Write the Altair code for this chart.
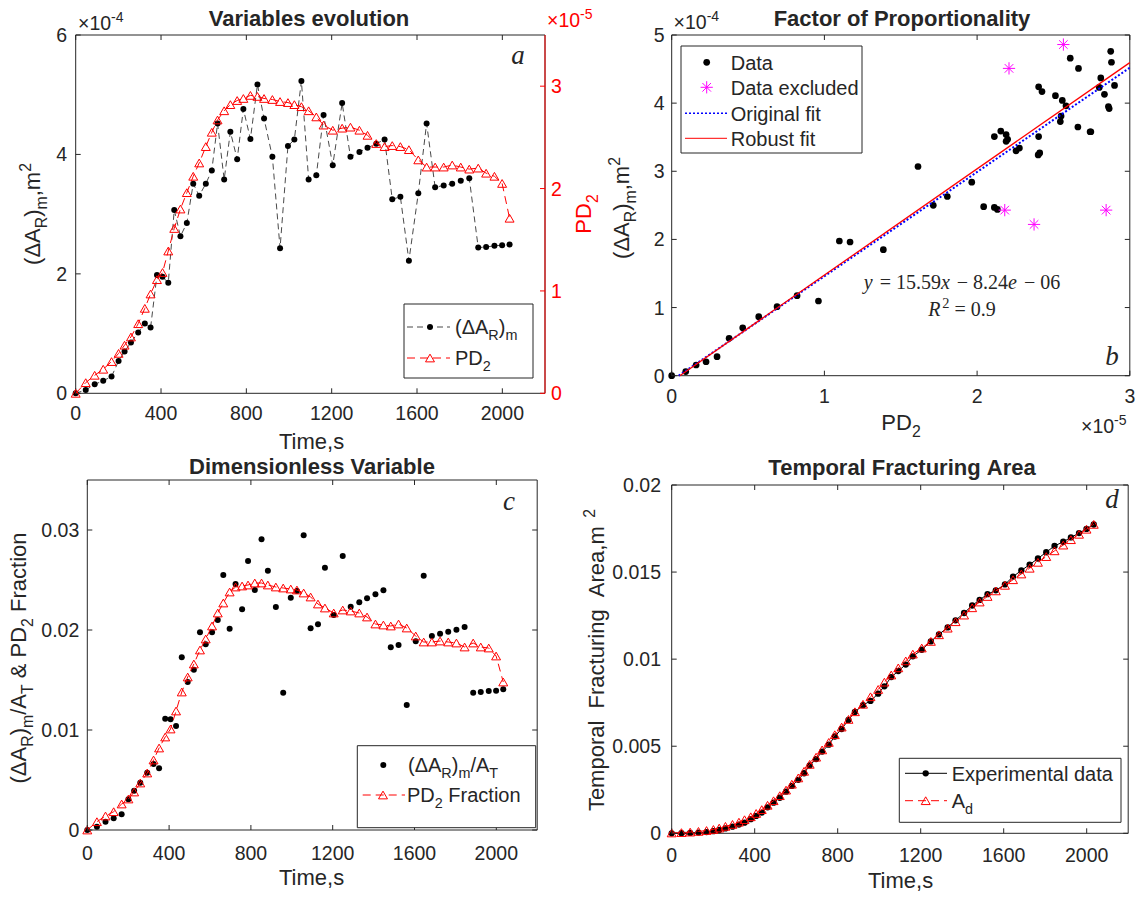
import altair as alt
import pandas as pd

# ---------------- data ----------------
time_s = [0, 47, 89, 129, 168, 201, 229, 259, 293, 324, 351, 381, 407, 434, 462, 491, 521, 551, 579, 610,
          638, 665, 696, 725, 757, 786, 819, 852, 883, 922, 958, 995, 1025, 1058, 1092, 1128, 1162, 1205, 1249, 1288,
          1330, 1368, 1409, 1448, 1484, 1522, 1562, 1606, 1645, 1685, 1725, 1765, 1805, 1845, 1887, 1924, 1963, 1999, 2034]
# (dA_R)_m in units of 1e-4 m^2
dAR_e4 = [0, 0.056, 0.15, 0.21, 0.28, 0.54, 0.70, 0.85, 1.02, 1.17, 1.10, 1.98, 1.95, 1.85, 3.07, 2.63, 2.85, 3.51, 3.31, 3.51,
          3.73, 4.52, 3.58, 4.38, 3.92, 4.76, 4.26, 5.17, 4.60, 3.96, 2.43, 4.14, 4.25, 5.23, 3.58, 3.65, 4.66, 3.82, 4.86, 3.96,
          4.04, 4.11, 4.18, 4.25, 3.25, 3.29, 2.22, 3.35, 4.52, 3.45, 3.48, 3.51, 3.56, 3.60, 2.44, 2.45, 2.47, 2.48, 2.49]
# PD2 in units of 1e-5
pd2_e5 = [0, 0.104, 0.176, 0.235, 0.31, 0.39, 0.47, 0.55, 0.68, 0.83, 0.97, 1.11, 1.18, 1.39, 1.61, 1.80, 1.96, 2.12, 2.25, 2.41,
          2.55, 2.67, 2.76, 2.82, 2.86, 2.88, 2.91, 2.90, 2.88, 2.87, 2.85, 2.84, 2.82, 2.80, 2.76, 2.70, 2.62, 2.57, 2.59, 2.60,
          2.57, 2.52, 2.44, 2.41, 2.42, 2.41, 2.38, 2.28, 2.21, 2.21, 2.21, 2.23, 2.21, 2.19, 2.20, 2.15, 2.12, 2.05, 1.71]
frac_dAR = [0, 0.00033, 0.00083, 0.00117, 0.00157, 0.00307, 0.00393, 0.00473, 0.00573, 0.0066, 0.00617, 0.01113, 0.01107, 0.0104,
            0.01727, 0.0148, 0.01603, 0.01977, 0.01857, 0.01977, 0.021, 0.0255, 0.02013, 0.0246, 0.02207, 0.0269, 0.024, 0.02907,
            0.02593, 0.0223, 0.01373, 0.02323, 0.0239, 0.02947, 0.02017, 0.02057, 0.02623, 0.0215, 0.0274, 0.02233, 0.02277,
            0.02317, 0.02357, 0.02397, 0.01827, 0.0185, 0.0125, 0.01887, 0.02543, 0.0194, 0.01963, 0.01983, 0.02003, 0.0203,
            0.01373, 0.0138, 0.0139, 0.01393, 0.01407]
frac_pd2 = [0, 0.00083, 0.0014, 0.00183, 0.0026, 0.0031, 0.0038, 0.0047, 0.0057, 0.007, 0.0082, 0.0093, 0.0101, 0.0119, 0.0138,
            0.0153, 0.0166, 0.018, 0.0191, 0.0204, 0.0217, 0.0227, 0.0238, 0.0243, 0.0244, 0.0245, 0.0247, 0.0247, 0.0245, 0.0243,
            0.0242, 0.0241, 0.0240, 0.0237, 0.0233, 0.0226, 0.0222, 0.0217, 0.022, 0.0219, 0.0217, 0.0213, 0.0206, 0.0205, 0.0204,
            0.0206, 0.0202, 0.0194, 0.0188, 0.0188, 0.0189, 0.0188, 0.0187, 0.0183, 0.0187, 0.0183, 0.0182, 0.0174, 0.0148]
area_exp = [0, 0.00001, 0.00002, 0.00004, 0.00007, 0.00012, 0.00019, 0.00028, 0.00038, 0.0005,
            0.00061, 0.00081, 0.001, 0.00119, 0.00149, 0.00176, 0.00204, 0.00239, 0.00272, 0.00307,
            0.00345, 0.0039, 0.00426, 0.00469, 0.00509, 0.00556, 0.00599, 0.00651, 0.00697, 0.00736,
            0.0076, 0.00802, 0.00844, 0.00897, 0.00932, 0.00969, 0.01016, 0.01054, 0.01102, 0.01142,
            0.01182, 0.01223, 0.01265, 0.01308, 0.0134, 0.01373, 0.01395, 0.01429, 0.01474, 0.01509,
            0.01543, 0.01578, 0.01614, 0.0165, 0.01674, 0.01699, 0.01724, 0.01748, 0.01773]
area_ad = [0.00002, 0.00004, 0.00007, 0.00011, 0.00016, 0.00022, 0.0003, 0.0004, 0.00051, 0.00064,
           0.00078, 0.00095, 0.00114, 0.00136, 0.00161, 0.00187, 0.00216, 0.00248, 0.00282, 0.00318,
           0.00356, 0.00396, 0.00437, 0.00479, 0.00522, 0.00566, 0.0061, 0.00654, 0.00698, 0.00741,
           0.00784, 0.00826, 0.00868, 0.00909, 0.0095, 0.0099, 0.01029, 0.01064, 0.01102, 0.0114,
           0.01178, 0.01215, 0.01253, 0.01295, 0.01328, 0.0136, 0.01392, 0.01424, 0.01456, 0.01489,
           0.01522, 0.01556, 0.01589, 0.01622, 0.01655, 0.01686, 0.01717, 0.01746, 0.01774]
# panel b (x in 1e-5, y in 1e-4)
b_data_x = [0, 0.092, 0.16, 0.225, 0.297, 0.376, 0.465, 0.57, 0.69, 0.821, 0.961, 1.098, 1.168, 1.386,
            1.613, 1.713, 1.805, 1.965, 2.043, 2.113, 2.113, 2.133, 2.155, 2.19, 2.20, 2.19, 2.255, 2.277, 2.403,
            2.425, 2.403, 2.40, 2.41, 2.513, 2.558, 2.582, 2.55, 2.545, 2.61, 2.664, 2.66, 2.74, 2.745, 2.81, 2.80,
            2.834, 2.86, 2.865, 2.875, 2.88, 2.90]
b_data_y = [0, 0.06, 0.157, 0.205, 0.279, 0.548, 0.704, 0.866, 1.013, 1.174, 1.096, 1.977, 1.962, 1.849,
            3.07, 2.50, 2.63, 2.84, 2.48, 3.51, 2.47, 2.44, 3.59, 3.54, 3.47, 3.44, 3.30, 3.34, 4.24,
            4.17, 3.51, 3.24, 3.27, 4.11, 4.04, 3.96, 3.81, 3.73, 4.66, 4.51, 3.65, 3.58, 3.58, 4.37, 4.23,
            4.13, 3.95, 3.92, 4.76, 4.60, 4.26]
b_excl_x = [2.209, 2.565, 2.181, 2.373, 2.845]
b_excl_y = [4.51, 4.86, 2.43, 2.22, 2.43]
robust_x = [0.053, 3.0]
robust_y = [0.0, 4.595]
original_x = [0.046, 3.0]
original_y = [0.0, 4.52]

time_ticks = [0, 400, 800, 1200, 1600, 2000]
time_labels = ["0", "400", "800", "1200", "1600", "2000"]
a_left_ticks, a_left_labels = [0, 2, 4, 6], ["0", "2", "4", "6"]
a_right_ticks, a_right_labels = [0, 1, 2, 3], ["0", "1", "2", "3"]
b_x_ticks, b_x_labels = [0, 1, 2, 3], ["0", "1", "2", "3"]
b_y_ticks, b_y_labels = [0, 1, 2, 3, 4, 5], ["0", "1", "2", "3", "4", "5"]
c_y_ticks, c_y_labels = [0, 0.01, 0.02, 0.03], ["0", "0.01", "0.02", "0.03"]
d_y_ticks, d_y_labels = [0, 0.005, 0.01, 0.015, 0.02], ["0", "0.005", "0.01", "0.015", "0.02"]

# ---------------- style ----------------
FONT = "Liberation Sans"
SERIF = "Liberation Serif"
DARK = "#262626"
RED = "#ff0000"
MAGENTA = "#ff00ff"
BLUE = "#0000ff"
LBL = 19.5
TTL = 22
HEAD = 22
LEG = 20
ASTERISK = "M-1,0L1,0M0,-1L0,1M-0.7,-0.7L0.7,0.7M-0.7,0.7L0.7,-0.7"

ARIAL = {' ': 278, '(': 333, ')': 333, ',': 278, '.': 278, '/': 278, '&': 667, '-': 333,
         '\u2212': 584, '\u00d7': 584, '\u0394': 668, 'A': 667, 'D': 722, 'E': 667, 'F': 611, 'P': 667,
         'R': 722, 'T': 611, 'V': 667, 'a': 556, 'b': 556, 'c': 500, 'd': 556, 'e': 556, 'f': 278,
         'g': 556, 'i': 222, 'l': 222, 'm': 833, 'n': 556, 'o': 556, 'p': 556, 'r': 333, 's': 500,
         't': 278, 'u': 556, 'v': 500, 'x': 500, 'y': 500}
TIMES = {' ': 250, '=': 564, '\u2212': 564, '.': 250, 'y': 444, 'x': 444, 'e': 444, 'R': 611}

ONE = pd.DataFrame({'k': [0]})


def width(s, size, metrics):
    dflt = 556 if metrics is ARIAL else 500
    return sum(metrics.get(ch, dflt) for ch in s) * size / 1000.0


def text_mark(s, x, y, size, color=DARK, align='left', angle=0, font=FONT, style='normal', weight='normal'):
    kw = dict(text=s.replace(' ', '\u00a0'), align=align, baseline='alphabetic', fontSize=size, font=font,
              color=color, fontStyle=style, fontWeight=weight)
    if angle:
        kw['angle'] = angle
    return alt.Chart(ONE).mark_text(**kw).encode(x=alt.value(x), y=alt.value(y))


def rich(segs, X, Y, size, color=DARK, anchor='left', angle=0, font=FONT, metrics=ARIAL):
    items = []
    for seg in segs:
        s, kind = seg[0], seg[1]
        style = seg[2] if len(seg) > 2 else 'normal'
        fs = size * 0.72 if kind in ('sub', 'sup') else size
        w = width(s, fs, metrics) + (0.1 * fs if style == 'italic' else 0.0)
        items.append((s, kind, style, fs, w))
    total = sum(it[4] for it in items)
    cum = -total / 2 if anchor == 'center' else 0.0
    out = []
    for s, kind, style, fs, w in items:
        core = s.strip(' ')
        lead = width(s[:len(s) - len(s.lstrip(' '))], fs, metrics)
        shift = 0.32 * size if kind == 'sub' else (-0.42 * size if kind == 'sup' else 0.0)
        pos = cum + lead
        if angle == 270:
            px, py = X + shift, Y - pos
        else:
            px, py = X + pos, Y + shift
        out.append(text_mark(core, px, py, fs, color, 'left', angle, font, style))
        cum += w
    return out


def seg_rule(x1, x2, y, color, dash=None, w=1.0):
    kw = dict(color=color, strokeWidth=w)
    if dash:
        kw['strokeDash'] = dash
    return alt.Chart(ONE).mark_rule(**kw).encode(x=alt.value(x1), x2=alt.value(x2), y=alt.value(y))


def vrule(x, y1, y2, color, w=1.0):
    return alt.Chart(ONE).mark_rule(color=color, strokeWidth=w).encode(
        x=alt.value(x), y=alt.value(y1), y2=alt.value(y2))


def sym(x, y, shape, size, color, filled):
    return alt.Chart(ONE).mark_point(shape=shape, size=size, filled=filled, color=color, opacity=1,
                                     strokeWidth=1).encode(x=alt.value(x), y=alt.value(y))


def box(x1, x2, y1, y2, fill=True):
    kw = dict(stroke=DARK, strokeWidth=1)
    if fill:
        kw['fill'] = 'white'
    else:
        kw['fillOpacity'] = 0
    return alt.Chart(ONE).mark_rect(**kw).encode(
        x=alt.value(x1), x2=alt.value(x2), y=alt.value(y1), y2=alt.value(y2))


def xticks(vals, scale, top, bottom, color=DARK):
    df = pd.DataFrame({'tv': vals})
    base = alt.Chart(df).mark_rule(color=color, strokeWidth=1)
    ex = alt.X('tv:Q', scale=scale, axis=None)
    return [base.encode(x=ex, y=alt.value(bottom), y2=alt.value(bottom - 5)),
            base.encode(x=ex, y=alt.value(top), y2=alt.value(top + 5))]


def yticks(vals, scale, left=None, right=None, color=DARK):
    df = pd.DataFrame({'tv': vals})
    base = alt.Chart(df).mark_rule(color=color, strokeWidth=1)
    ey = alt.Y('tv:Q', scale=scale, axis=None)
    out = []
    if left is not None:
        out.append(base.encode(y=ey, x=alt.value(left), x2=alt.value(left + 5)))
    if right is not None:
        out.append(base.encode(y=ey, x=alt.value(right - 5), x2=alt.value(right)))
    return out


def xlabels(vals, labels, scale, ybase, color=DARK):
    df = pd.DataFrame({'tv': vals, 'lab': labels})
    return alt.Chart(df).mark_text(align='center', baseline='alphabetic', fontSize=LBL, font=FONT,
                                   color=color).encode(
        x=alt.X('tv:Q', scale=scale, axis=None), y=alt.value(ybase), text='lab:N')


def ylabels(vals, labels, scale, x, align='right', color=DARK):
    df = pd.DataFrame({'tv': vals, 'lab': labels})
    return alt.Chart(df).mark_text(align=align, baseline='alphabetic', dy=7, fontSize=LBL, font=FONT,
                                   color=color).encode(
        y=alt.Y('tv:Q', scale=scale, axis=None), x=alt.value(x), text='lab:N')


# ================= panel a =================
XA = alt.Scale(domain=[0, 2200], range=[75.7, 545], nice=False, zero=False)
YAL = alt.Scale(domain=[0, 6], range=[393.3, 35], nice=False)
YAR = alt.Scale(domain=[0, 3.5], range=[393.3, 35], nice=False)
df_a = pd.DataFrame({'t': time_s, 'dA': dAR_e4, 'pd2': pd2_e5})

a_line = alt.Chart(df_a).mark_line(color='#1a1a1a', strokeWidth=0.8, strokeDash=[6, 4]).encode(
    x=alt.X('t:Q', scale=XA, axis=None), y=alt.Y('dA:Q', scale=YAL, axis=None))
a_pts = alt.Chart(df_a).mark_circle(color='black', size=36, opacity=1).encode(
    x=alt.X('t:Q', scale=XA, axis=None), y=alt.Y('dA:Q', scale=YAL, axis=None))
pa_left = alt.layer(a_line, a_pts, *xticks(time_ticks, XA, 35, 393.3),
                    *yticks(a_left_ticks, YAL, left=75.7),
                    xlabels(time_ticks, time_labels, XA, 420),
                    ylabels(a_left_ticks, a_left_labels, YAL, 67))

a_rline = alt.Chart(df_a).mark_line(color=RED, strokeWidth=1, strokeDash=[8, 5]).encode(
    x=alt.X('t:Q', scale=XA, axis=None), y=alt.Y('pd2:Q', scale=YAR, axis=None))
a_tri = alt.Chart(df_a).mark_point(shape='triangle-up', size=80, color=RED, filled=False, strokeWidth=1,
                                   opacity=1).encode(
    x=alt.X('t:Q', scale=XA, axis=None), y=alt.Y('pd2:Q', scale=YAR, axis=None))
pa_right = alt.layer(a_rline, a_tri, *yticks(a_right_ticks, YAR, right=545, color=RED),
                     ylabels(a_right_ticks, a_right_labels, YAR, 551, align='left', color=RED))

a_ann = [
    vrule(545, 35, 393.3, RED),
    text_mark("Variables evolution", 309, 25.7, HEAD, align='center', weight='bold'),
    text_mark("a", 518, 64, 27, align='center', font=SERIF, style='italic'),
    *rich([("\u00d710", 'n'), ("-4", 'sup')], 78, 30, LBL),
    *rich([("\u00d710", 'n'), ("-5", 'sup')], 547, 27, LBL, color=RED),
    *rich([("(\u0394A", 'n'), ("R", 'sub'), (")", 'n'), ("m", 'sub'), (",m", 'n'), ("2", 'sup')],
          40, 214, TTL, anchor='center', angle=270),
    *rich([("PD", 'n'), ("2", 'sub')], 591, 214, TTL, color=RED, anchor='center', angle=270),
    *rich([("Time,s", 'n')], 312, 448.5, TTL, anchor='center'),
    box(404, 533, 304, 378),
    seg_rule(407, 450, 327, '#1a1a1a', [6, 4], 0.8),
    sym(430, 327, 'circle', 36, 'black', True),
    *rich([("(\u0394A", 'n'), ("R", 'sub'), (")", 'n'), ("m", 'sub')], 455, 334, LEG),
    seg_rule(407, 450, 358, RED, [8, 5], 1),
    sym(430, 358, 'triangle-up', 80, RED, False),
    *rich([("PD", 'n'), ("2", 'sub')], 455, 365, LEG),
]

# ================= panel b =================
XB = alt.Scale(domain=[0, 3], range=[671.7, 1129.8], nice=False, zero=False)
YB = alt.Scale(domain=[0, 5], range=[375.7, 35], nice=False)
df_b = pd.DataFrame({'x': b_data_x, 'y': b_data_y})
df_bx = pd.DataFrame({'x': b_excl_x, 'y': b_excl_y})
df_rob = pd.DataFrame({'x': robust_x, 'y': robust_y})
df_org = pd.DataFrame({'x': original_x, 'y': original_y})
bx = alt.X('x:Q', scale=XB, axis=None)
by = alt.Y('y:Q', scale=YB, axis=None)
b_pts = alt.Chart(df_b).mark_circle(color='black', size=45, opacity=1).encode(x=bx, y=by)
b_exc = alt.Chart(df_bx).mark_point(shape=ASTERISK, size=150, color=MAGENTA, filled=False, strokeWidth=1,
                                    opacity=1).encode(x=bx, y=by)
b_orig = alt.Chart(df_org).mark_line(color=BLUE, strokeDash=[2, 2], strokeWidth=2).encode(x=bx, y=by)
b_rob = alt.Chart(df_rob).mark_line(color=RED, strokeWidth=1.3).encode(x=bx, y=by)
pb = alt.layer(b_pts, b_exc, b_orig, b_rob, *xticks(b_x_ticks, XB, 35, 375.7),
               *yticks(b_y_ticks, YB, left=671.7, right=1129.8),
               xlabels(b_x_ticks, b_x_labels, XB, 403),
               ylabels(b_y_ticks, b_y_labels, YB, 664.5))

b_ann = [
    text_mark("Factor of Proportionality", 902, 26, HEAD, align='center', weight='bold'),
    text_mark("b", 1112, 365, 27, align='center', font=SERIF, style='italic'),
    *rich([("\u00d710", 'n'), ("-4", 'sup')], 673.6, 29, LBL),
    *rich([("\u00d710", 'n'), ("-5", 'sup')], 1081, 433, LBL),
    *rich([("(\u0394A", 'n'), ("R", 'sub'), (")", 'n'), ("m", 'sub'), (",m", 'n'), ("2", 'sup')],
          629, 208, TTL, anchor='center', angle=270),
    *rich([("PD", 'n'), ("2", 'sub')], 901, 430, TTL, anchor='center'),
    *rich([("y", 'n', 'italic'), (" = 15.59", 'n'), ("x", 'n', 'italic'), (" \u2212 8.24", 'n'),
           ("e", 'n', 'italic'), (" \u2212 06", 'n')], 962, 289, 20, anchor='center', font=SERIF,
          metrics=TIMES),
    *rich([("R", 'n', 'italic'), ("2", 'sup'), (" = 0.9", 'n')], 962, 316, 20, anchor='center',
          font=SERIF, metrics=TIMES),
    box(681, 862, 46, 153),
    sym(706.7, 62.3, 'circle', 45, 'black', True),
    text_mark("Data", 730.7, 69.5, LEG),
    sym(706.7, 87.3, ASTERISK, 150, MAGENTA, False),
    text_mark("Data excluded", 730.7, 94.5, LEG),
    seg_rule(685, 727, 113.3, BLUE, [2, 2], 1.5),
    text_mark("Original fit", 730.7, 120.5, LEG),
    seg_rule(685, 727, 138.3, RED, None, 1),
    text_mark("Robust fit", 730.7, 145.5, LEG),
]

# ================= panel c =================
XC = alt.Scale(domain=[0, 2200], range=[87.3, 537.2], nice=False, zero=False)
YC = alt.Scale(domain=[0, 0.035], range=[830, 480], nice=False)
df_c = pd.DataFrame({'t': time_s, 'f': frac_dAR, 'p': frac_pd2})
cx = alt.X('t:Q', scale=XC, axis=None)
c_pts = alt.Chart(df_c).mark_circle(color='black', size=36, opacity=1).encode(
    x=cx, y=alt.Y('f:Q', scale=YC, axis=None))
c_line = alt.Chart(df_c).mark_line(color=RED, strokeWidth=1, strokeDash=[8, 5]).encode(
    x=cx, y=alt.Y('p:Q', scale=YC, axis=None))
c_tri = alt.Chart(df_c).mark_point(shape='triangle-up', size=80, color=RED, filled=False, strokeWidth=1,
                                   opacity=1).encode(x=cx, y=alt.Y('p:Q', scale=YC, axis=None))
pc = alt.layer(c_pts, c_line, c_tri, *xticks(time_ticks, XC, 480, 830),
               *yticks(c_y_ticks, YC, left=87.3, right=537.2),
               xlabels(time_ticks, time_labels, XC, 860),
               ylabels(c_y_ticks, c_y_labels, YC, 79.3))
c_ann = [
    text_mark("Dimensionless Variable", 312, 474, HEAD, align='center', weight='bold'),
    text_mark("c", 509, 510, 27, align='center', font=SERIF, style='italic'),
    *rich([("(\u0394A", 'n'), ("R", 'sub'), (")", 'n'), ("m", 'sub'), ("/A", 'n'), ("T", 'sub'),
           (" & PD", 'n'), ("2", 'sub'), (" Fraction", 'n')], 26, 658, TTL, anchor='center', angle=270),
    *rich([("Time,s", 'n')], 312, 885, TTL, anchor='center'),
    box(357.3, 535.7, 745.7, 827.7),
    sym(383.3, 765, 'circle', 36, 'black', True),
    *rich([("(\u0394A", 'n'), ("R", 'sub'), (")", 'n'), ("m", 'sub'), ("/A", 'n'), ("T", 'sub')],
          408, 772, LEG),
    seg_rule(362.7, 405, 795, RED, [8, 5], 1),
    sym(383, 795, 'triangle-up', 80, RED, False),
    *rich([("PD", 'n'), ("2", 'sub'), (" Fraction", 'n')], 407, 802, LEG),
]

# ================= panel d =================
XD = alt.Scale(domain=[0, 2200], range=[671.7, 1128.2], nice=False, zero=False)
YD = alt.Scale(domain=[0, 0.02], range=[833.3, 485], nice=False)
df_d = pd.DataFrame({'t': time_s, 'e': area_exp, 'm': area_ad})
dx = alt.X('t:Q', scale=XD, axis=None)
d_line = alt.Chart(df_d).mark_line(color='black', strokeWidth=1).encode(
    x=dx, y=alt.Y('e:Q', scale=YD, axis=None))
d_pts = alt.Chart(df_d).mark_circle(color='black', size=40, opacity=1).encode(
    x=dx, y=alt.Y('e:Q', scale=YD, axis=None))
d_mline = alt.Chart(df_d).mark_line(color=RED, strokeWidth=1, strokeDash=[8, 5]).encode(
    x=dx, y=alt.Y('m:Q', scale=YD, axis=None))
d_tri = alt.Chart(df_d).mark_point(shape='triangle-up', size=80, color=RED, filled=False, strokeWidth=1,
                                   opacity=1).encode(x=dx, y=alt.Y('m:Q', scale=YD, axis=None))
pdd = alt.layer(d_line, d_pts, d_mline, d_tri, *xticks(time_ticks, XD, 485, 833.3),
                *yticks(d_y_ticks, YD, left=671.7, right=1128.2),
                xlabels(time_ticks, time_labels, XD, 862),
                ylabels(d_y_ticks, d_y_labels, YD, 661))
d_ann = [
    text_mark("Temporal Fracturing Area", 902, 475, HEAD, align='center', weight='bold'),
    text_mark("d", 1112, 508, 27, align='center', font=SERIF, style='italic'),
    *rich([("Temporal  Fracturing  Area,m ", 'n'), ("2", 'sup')], 604, 660, TTL, anchor='center',
          angle=270),
    *rich([("Time,s", 'n')], 901, 888, TTL, anchor='center'),
    box(899.3, 1121, 758.3, 822.3),
    seg_rule(905, 947, 773.3, 'black', None, 1),
    sym(925.7, 773.3, 'circle', 40, 'black', True),
    text_mark("Experimental data", 951.7, 780.5, LEG),
    seg_rule(905, 947, 800.7, RED, [8, 5], 1),
    sym(925.7, 800.7, 'triangle-up', 80, RED, False),
    *rich([("A", 'n'), ("d", 'sub')], 951.7, 807.7, LEG),
]

frames = [box(75.7, 545, 35, 393.3, fill=False), box(671.7, 1129.8, 35, 375.7, fill=False),
          box(87.3, 537.2, 480, 830, fill=False), box(671.7, 1128.2, 485, 833.3, fill=False)]

chart = alt.layer(
    *frames, pa_left, pa_right, pb, pc, pdd, *a_ann, *b_ann, *c_ann, *d_ann
).resolve_scale(
    x='independent', y='independent'
).properties(
    width=1138, height=897, padding=0, background='white',
    autosize=alt.AutoSizeParams(type='none')
).configure_view(strokeWidth=0)

chart.save("out.html", embed_options={"renderer": "svg", "actions": False})
